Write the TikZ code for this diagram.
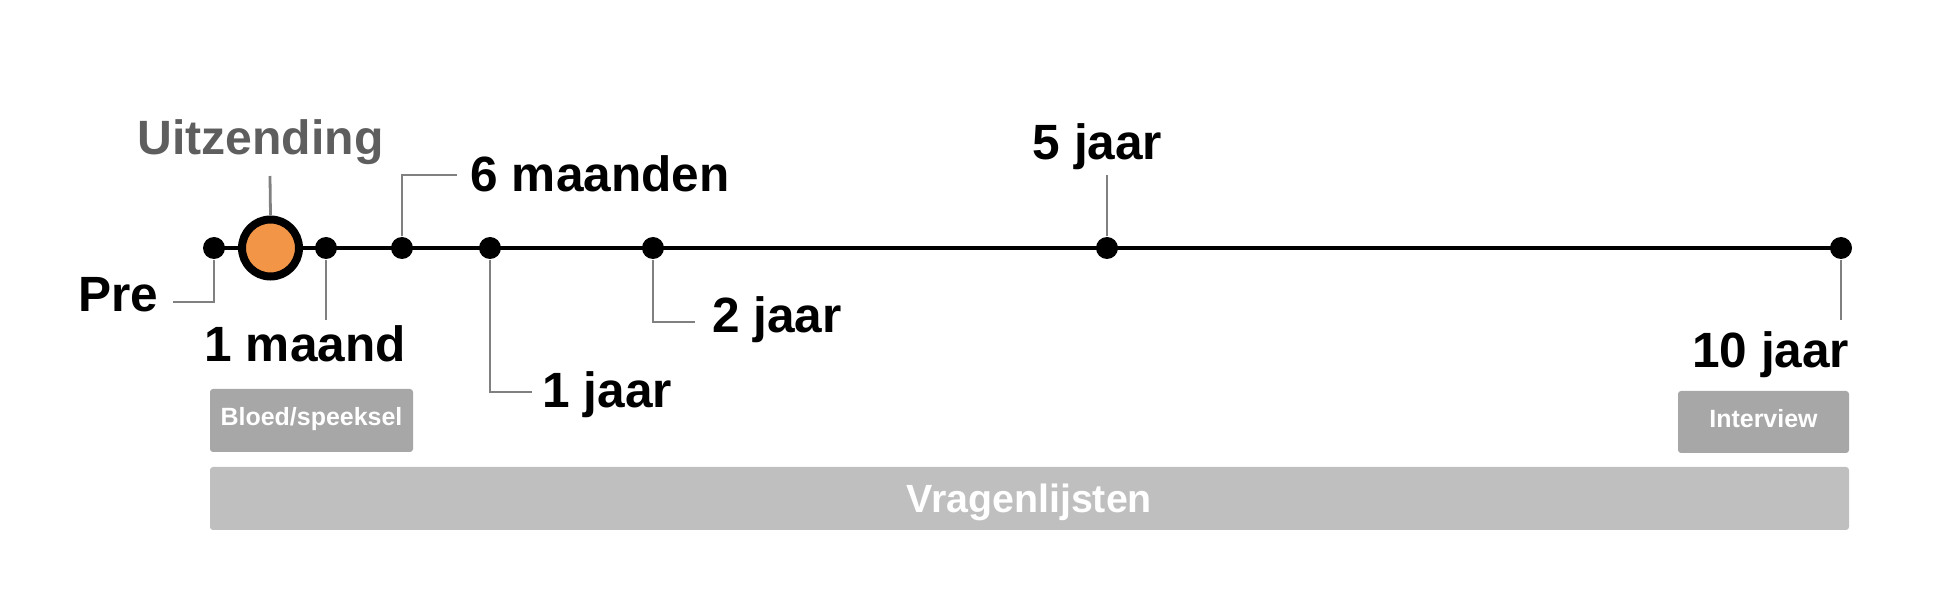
\documentclass[tikz,border=0pt]{standalone}
\usepackage{fontspec}
\setmainfont{Liberation Sans}

\definecolor{uitzorange}{HTML}{F39547}
\definecolor{uitzgray}{HTML}{5E5E5E}
\definecolor{guidegray}{HTML}{808080}
\definecolor{boxgray}{HTML}{A7A7A7}
\definecolor{bargray}{HTML}{BFBFBF}

\begin{document}
\begin{tikzpicture}[
    dot/.style ={
        circle,
        fill=black,
        inner sep=0,
        minimum size=2.2mm
    },
    lbl/.style ={
        font=\fontsize{14.1}{16}\selectfont\bfseries,
        inner sep=0,
        text depth=0pt
    },
    guide/.style ={
        draw=guidegray,
        line width=0.28mm
    },
    tag/.style ={
        rounded corners=0.3mm,
        fill=boxgray,
        text=white,
        inner sep=0,
        text depth=0.21em,
        font=\fontsize{7.1}{8}\selectfont\bfseries
    }
    ]
    \useasboundingbox (0,0) rectangle (19.5,6);

    \foreach \x/ \pos in {{pre/(2.14,3.52)}, {maand/(3.26,3.52)}, {half/(4.02,3.52)}, {j1/(4.90,3.52)}, {j2/(6.53,3.52)}, {j5/(11.07,3.52)}, {j10/(18.41,3.52)}}
        \node[dot] (\x) at \pos {};
    \draw[line width=0.33mm] (pre.center) -- (j10.center);
    \node[circle, draw=black, line width=0.8mm, fill=uitzorange, inner sep=0, minimum size=5.7mm] (uitz) at (2.705,3.52) {};

    % leader ends
    \coordinate (epre) at (1.73,2.98);
    \coordinate (euitz) at (2.70,4.24);
    \coordinate (emaand) at (3.26,2.80);
    \coordinate (ehalf) at (4.57,4.25);
    \coordinate (ej1) at (5.32,2.08);
    \coordinate (ej2) at (6.95,2.78);
    \coordinate (ej5) at (11.07,4.25);
    \coordinate (ej10) at (18.41,2.80);

    \draw[guide] (pre.south) |- (epre);
    \draw[guide] (uitz.north) -- (euitz);
    \draw[guide] (maand.south) -- (emaand);
    \draw[guide] (half.north) |- (ehalf);
    \draw[guide] (j1.south) |- (ej1);
    \draw[guide] (j2.south) |- (ej2);
    \draw[guide] (j5.north) -- (ej5);
    \draw[guide] (j10.south) -- (ej10);

    \foreach \x/ \pos/ \anc/ \txt in {{pre/(1.59,2.88)/base east/Pre}, {maand/(2.04,2.38)/base west/1 maand}, {half/(4.70,4.08)/base west/6 maanden}, {j1/(5.42,1.93)/base west/1 jaar}, {j2/(7.115,2.68)/base west/2 jaar}, {j5/(10.975,4.40)/base/5 jaar}, {j10/(18.50,2.32)/base east/10 jaar}}
        \node[lbl, anchor=\anc] (l\x) at \pos {\txt};
    \node[lbl, anchor=base, uitzgray, font=\fontsize{13.7}{16}\selectfont\bfseries] (luitz) at (2.605,4.45) {Uitzending};

    \node[tag, minimum width=2.03cm, minimum height=0.63cm] (bloed) at (3.115,1.795) {Bloed/speeksel};
    \node[tag, minimum width=1.71cm, minimum height=0.62cm] (interview) at (17.635,1.78) {Interview};
    \node[tag, fill=bargray, text depth=0pt, minimum width=16.39cm, minimum height=0.63cm, font=\fontsize{11.2}{13}\selectfont\bfseries] (vragen) at (10.295,1.015) {Vragenlijsten};
\end{tikzpicture}
\end{document}
